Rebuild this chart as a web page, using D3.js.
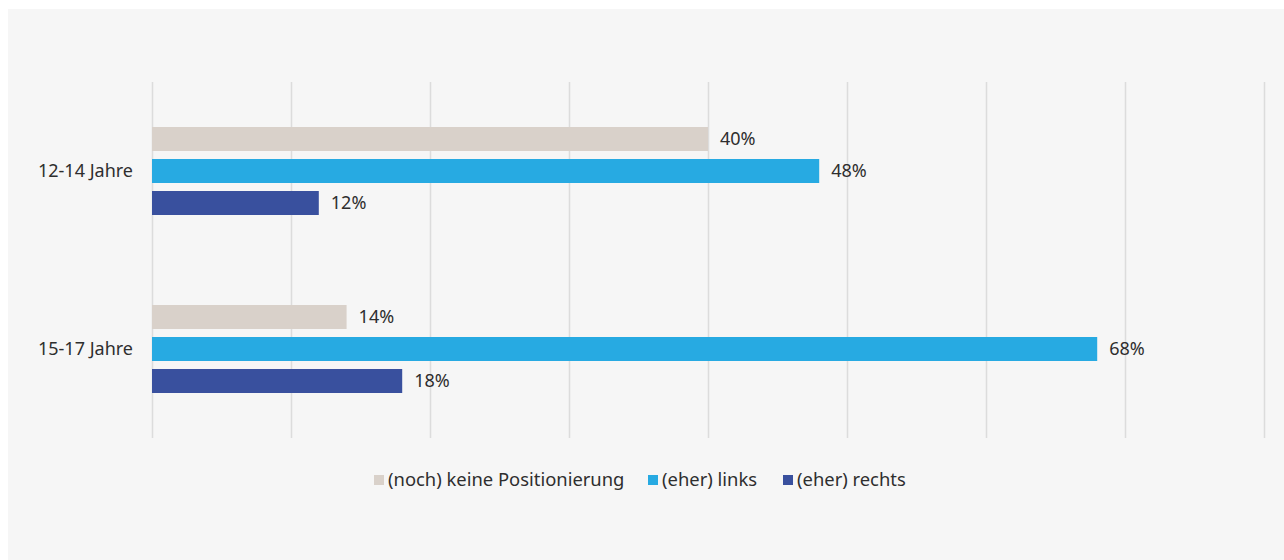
<!DOCTYPE html>
<html>
<head>
<meta charset="utf-8">
<script src="https://cdn.jsdelivr.net/npm/d3@7"></script>
<style>
  html, body { margin: 0; padding: 0; background: #ffffff; }
  svg { display: block; font-family: "Noto Sans", "Open Sans", sans-serif; }
</style>
</head>
<body>
<svg id="chart" width="1284" height="560"></svg>
<script>
const categories = ["12-14 Jahre", "15-17 Jahre"];
const seriesNames = ["(noch) keine Positionierung", "(eher) links", "(eher) rechts"];
const seriesColors = ["#d9d1ca", "#27aae2", "#39509e"];
const keinePositionierung = [40, 14];
const links = [48, 68];
const rechts = [12, 18];
const xTicks = [0, 10, 20, 30, 40, 50, 60, 70, 80];

const seriesValues = [keinePositionierung, links, rechts];
const fontSize = 18;
const textColor = "#2e2e2e";

const svg = d3.select("#chart");

// panel background
svg.append("rect").attr("x", 8).attr("y", 9).attr("width", 1276).attr("height", 551).attr("fill", "#f6f6f6");

const plot = { left: 152, right: 1264, top: 82, bottom: 438 };

const x = d3.scaleLinear().domain([0, 80]).range([plot.left, plot.right]);
const y = d3.scaleBand().domain(categories).range([plot.top, plot.bottom]);
const barStep = 32, barH = 24;
const inner = d3.scaleBand().domain(d3.range(seriesNames.length))
  .range([-(barStep * 3 - (barStep - barH)) / 2, (barStep * 3 - (barStep - barH)) / 2])
  .paddingInner((barStep - barH) / barStep).paddingOuter(0);

// vertical gridlines
const grid = d3.axisBottom(x).tickValues(xTicks).tickSize(plot.bottom - plot.top).tickFormat("");
svg.append("g").attr("transform", `translate(0,${plot.top})`).call(grid)
  .call(g => g.select(".domain").remove())
  .call(g => g.selectAll("line").attr("stroke", "#dcdcdc").attr("stroke-width", 1.5));

// category labels
const yAxis = d3.axisLeft(y).tickSize(0).tickPadding(19);
svg.append("g").attr("transform", `translate(${plot.left},0)`).call(yAxis)
  .call(g => g.select(".domain").remove())
  .call(g => g.selectAll("text").attr("font-size", fontSize).attr("fill", textColor).attr("font-family", "Noto Sans, Open Sans, sans-serif"));

const rows = [];
categories.forEach((c, ci) => {
  seriesValues.forEach((vals, si) => rows.push({ cat: c, s: si, v: vals[ci] }));
});

const bars = svg.append("g");
bars.selectAll("rect").data(rows).join("rect")
  .attr("x", x(0))
  .attr("y", d => y(d.cat) + y.bandwidth() / 2 + inner(d.s))
  .attr("width", d => x(d.v) - x(0))
  .attr("height", inner.bandwidth())
  .attr("fill", d => seriesColors[d.s]);

bars.selectAll("text").data(rows).join("text")
  .attr("x", d => x(d.v) + 12)
  .attr("y", d => y(d.cat) + y.bandwidth() / 2 + inner(d.s) + inner.bandwidth() / 2)
  .attr("dy", "0.35em")
  .attr("font-size", fontSize)
  .attr("fill", textColor)
  .text(d => d.v + "%");

// legend
const legend = svg.append("g").attr("transform", "translate(374,480)");
const legendX = [0, 274, 409];
seriesNames.forEach((n, i) => {
  const g = legend.append("g").attr("transform", `translate(${legendX[i]},0)`);
  g.append("rect").attr("x", 0).attr("y", -5).attr("width", 10).attr("height", 10).attr("fill", seriesColors[i]);
  g.append("text").attr("x", 14).attr("y", 0).attr("dy", "0.35em").attr("font-size", 18.4).attr("fill", textColor).text(n);
});
</script>
</body>
</html>
